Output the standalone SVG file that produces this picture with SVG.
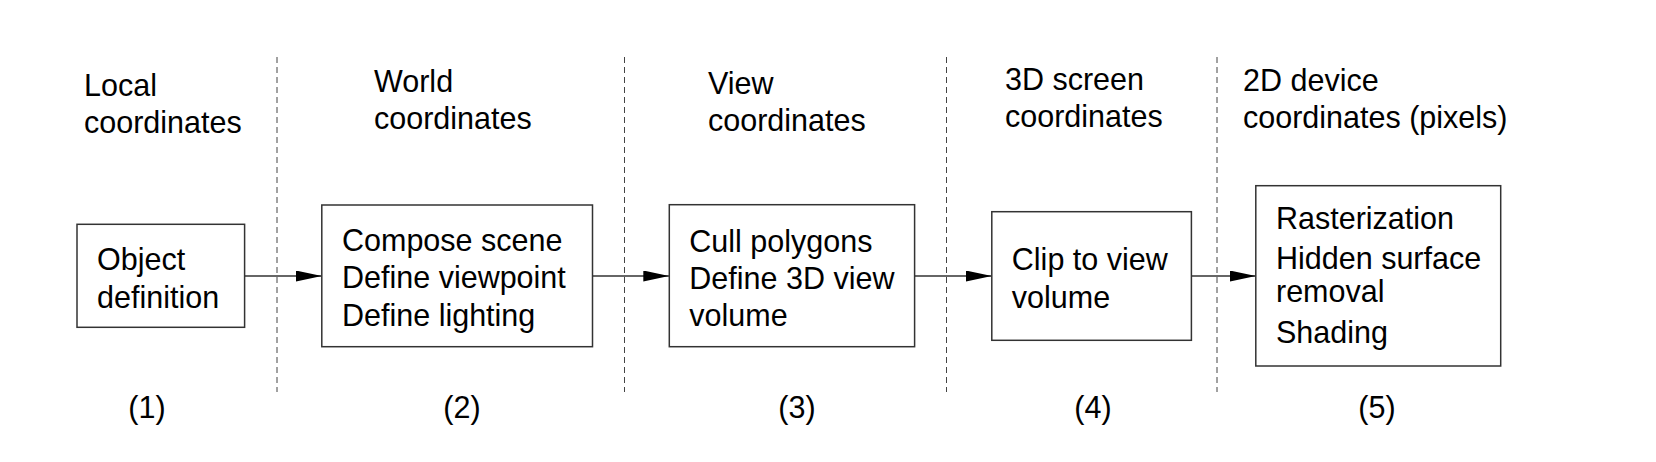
<svg xmlns="http://www.w3.org/2000/svg" width="1656" height="462" viewBox="0 0 1656 462">
<style>
text{font-family:"Liberation Sans",Arial,sans-serif;font-size:30.5px;fill:#000}
.box{fill:#fff;stroke:#333;stroke-width:1.5}
.sep{stroke:#444;stroke-width:1;stroke-dasharray:6 4;fill:none}
.conn{stroke:#333;stroke-width:1.3;fill:none;marker-end:url(#ah)}
.num{text-anchor:middle}
</style>
<defs>
<marker id="ah" viewBox="0 0 26 11" refX="26" refY="5.5" markerWidth="26" markerHeight="11" markerUnits="userSpaceOnUse" orient="auto">
<path d="M0,0 L26,5.5 L0,11 Z" fill="#000"/>
</marker>
</defs>
<rect width="1656" height="462" fill="#fff"/>
<g id="separators">
<line class="sep" x1="277" y1="57" x2="277" y2="392"/>
<line class="sep" x1="624.5" y1="57" x2="624.5" y2="392"/>
<line class="sep" x1="946.5" y1="57" x2="946.5" y2="392"/>
<line class="sep" x1="1217" y1="57" x2="1217" y2="392"/>
</g>
<g id="headers">
<text x="84" y="96">Local</text><text x="84" y="133">coordinates</text>
<text x="374" y="92">World</text><text x="374" y="129">coordinates</text>
<text x="708" y="94">View</text><text x="708" y="131">coordinates</text>
<text x="1005" y="90">3D screen</text><text x="1005" y="127">coordinates</text>
<text x="1243" y="91">2D device</text><text x="1243" y="128">coordinates (pixels)</text>
</g>
<g id="connectors">
<line class="conn" x1="244.6" y1="276" x2="321.8" y2="276"/>
<line class="conn" x1="592.5" y1="276" x2="669.3" y2="276"/>
<line class="conn" x1="914.6" y1="276" x2="991.8" y2="276"/>
<line class="conn" x1="1191.4" y1="276" x2="1255.8" y2="276"/>
</g>
<g id="node1">
<rect class="box" x="77" y="224.3" width="167.6" height="103"/>
<text x="97" y="270">Object</text><text x="97" y="307.7">definition</text>
</g>
<g id="node2">
<rect class="box" x="321.8" y="205" width="270.7" height="141.7"/>
<text x="342" y="250.7">Compose scene</text><text x="342" y="288.3">Define viewpoint</text><text x="342" y="326">Define lighting</text>
</g>
<g id="node3">
<rect class="box" x="669.3" y="204.7" width="245.3" height="142"/>
<text x="689.3" y="251.7">Cull polygons</text><text x="689.3" y="289.3">Define 3D view</text><text x="689.3" y="326">volume</text>
</g>
<g id="node4">
<rect class="box" x="991.8" y="211.7" width="199.6" height="128.6"/>
<text x="1011.8" y="270">Clip to view</text><text x="1011.8" y="307.7">volume</text>
</g>
<g id="node5">
<rect class="box" x="1255.8" y="185.7" width="244.9" height="180.3"/>
<text x="1276" y="229.3">Rasterization</text><text x="1276" y="269.3">Hidden surface</text><text x="1276" y="301.7">removal</text><text x="1276" y="343.3">Shading</text>
</g>
<g id="labels">
<text class="num" x="147" y="418">(1)</text>
<text class="num" x="462" y="418">(2)</text>
<text class="num" x="797" y="418">(3)</text>
<text class="num" x="1093" y="418">(4)</text>
<text class="num" x="1377" y="418">(5)</text>
</g>
</svg>
